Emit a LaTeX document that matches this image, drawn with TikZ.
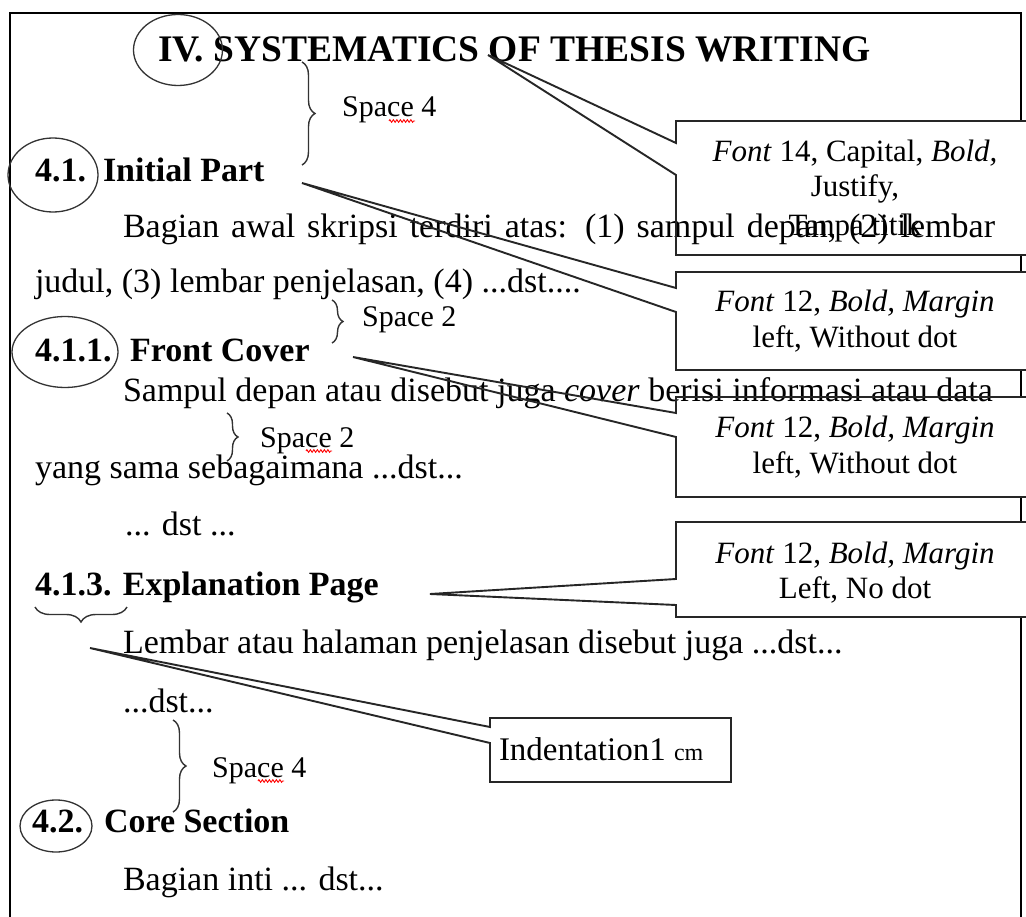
\documentclass[tikz,border=0pt]{standalone}
\usepackage{fontspec}
\setmainfont{Liberation Serif}
\usetikzlibrary{shapes.geometric,decorations.pathreplacing,decorations.pathmorphing}

\newcommand\titlesize{\fontsize{37.5}{44}\selectfont}
\newcommand\bodysize{\fontsize{34}{40}\selectfont}
\newcommand\notesize{\fontsize{31}{36}\selectfont}
\newcommand\gapsize{\fontsize{30}{35}\selectfont}

\tikzset{
  frame/.style={line width=2.6pt, black},
  callout/.style={line width=1.9pt, black!85, line join=miter},
  ring/.style={ellipse, draw=black!80, line width=1.3pt, inner sep=0pt},
  txt/.style={anchor=base west, inner sep=0pt, outer sep=0pt},
  note/.style={anchor=base, inner sep=0pt, outer sep=0pt, font=\notesize},
  gapbrace/.style={decorate, decoration={brace, amplitude=13pt}, line width=1.4pt, black!80},
  gaplabel/.style={anchor=base west, inner sep=0pt, font=\gapsize},
  spell/.style={red, line width=0.9pt, decorate, decoration={zigzag, amplitude=1.3pt, segment length=3.5pt}}
}

\begin{document}
\begin{tikzpicture}[x=1pt,y=-1pt]
\useasboundingbox (0,0) rectangle (1026,917);
\clip (0,0) rectangle (1026,917);
\fill[white] (0,0) rectangle (1026,917);

% page frame (right edge only between the callouts)
\draw[frame] (10,930) -- (10,13) -- (1021,13) -- (1021,121);
\draw[frame] (1021,255) -- (1021,272);
\draw[frame] (1021,370) -- (1021,397);
\draw[frame] (1021,497) -- (1021,522);
\draw[frame] (1021,617) -- (1021,930);

% ---- page text ----
\node[txt, font=\titlesize\bfseries] (title) at (158,62) {IV. SYSTEMATICS OF THESIS WRITING};

\node[txt, font=\bodysize\bfseries] (n41) at (35,182) {4.1.};
\node[txt, font=\bodysize\bfseries] (initial) at (103,182) {Initial Part};
\node[txt, font=\bodysize] (p1a) at (123,238) {\makebox[872pt][s]{Bagian awal skripsi terdiri atas: (1) sampul depan, (2) lembar}};
\node[txt, font=\bodysize] (p1b) at (35,293) {judul, (3) lembar penjelasan, (4) ...dst....};

\node[txt, font=\bodysize\bfseries] (n411) at (35,362) {4.1.1.};
\node[txt, font=\bodysize\bfseries] (front) at (130,362) {Front Cover};
\node[txt, font=\bodysize] (p2a) at (123,402) {\makebox[870pt][s]{Sampul depan atau disebut juga \textit{cover} berisi informasi atau data}};
\node[txt, font=\bodysize] (p2b) at (35,478) {yang sama sebagaimana ...dst...};
\node[txt, font=\bodysize] (p2c) at (125,535) {... dst ...};

\node[txt, font=\bodysize\bfseries] (expl) at (35,595) {4.1.3. Explanation Page};
\node[txt, font=\bodysize] (p3a) at (123,653) {Lembar atau halaman penjelasan disebut juga ...dst...};
\node[txt, font=\bodysize] (p3b) at (123,712) {...dst...};

\node[txt, font=\bodysize\bfseries] (n42) at (32,832) {4.2.};
\node[txt, font=\bodysize\bfseries] (core) at (104,832) {Core Section};
\node[txt, font=\bodysize] (p4a) at (123,890) {Bagian inti ... dst...};

% ---- rings around the numbers ----
\node[ring, minimum width=89pt, minimum height=71pt] (ringIV) at (178,50) {};
\node[ring, minimum width=90pt, minimum height=74pt] (ring41) at (53,175) {};
\node[ring, minimum width=106pt, minimum height=71pt] (ring411) at (65,352) {};
\node[ring, minimum width=72pt, minimum height=52pt] (ring42) at (56,826) {};

% ---- spacing braces ----
\draw[gapbrace] (302,62) -- (302,165);
\node[gaplabel] (sp1) at (342,117) {Space 4};
\draw[spell] (389,121) -- (415,121);

\draw[gapbrace, decoration={brace, amplitude=11pt}] (332,300) -- (332,343);
\node[gaplabel] (sp2) at (362,327) {Space 2};

\draw[gapbrace, decoration={brace, amplitude=11pt}] (227,413) -- (227,461);
\node[gaplabel] (sp3) at (260,447) {Space 2};
\draw[spell] (306,451) -- (332,451);

\draw[gapbrace] (173,720) -- (173,812);
\node[gaplabel] (sp4) at (212,777) {Space 4};
\draw[spell] (258,781) -- (284,781);

\draw[gapbrace, decoration={brace, amplitude=15pt}] (127,607) -- (35,607);

% ---- callout tips ----
\coordinate (tip1) at (488,55);
\coordinate (tip2) at (302,183);
\coordinate (tip3) at (353,357);
\coordinate (tip4) at (430,594);
\coordinate (tip5) at (90,648);

% ---- callouts ----
\draw[callout] (1035,121) -- (676,121) -- (676,143) -- (tip1) -- (676,175) -- (676,255) -- (1035,255);
\node[note] (c1a) at (855,162) {\textit{Font} 14, Capital, \textit{Bold,}};
\node[note] (c1b) at (855,197) {Justify,};
\node[note] (c1c) at (855,236) {Tanpa titik};

\draw[callout] (1035,272) -- (676,272) -- (676,288) -- (tip2) -- (676,312) -- (676,370) -- (1035,370);
\node[note] (c2a) at (855,312) {\textit{Font} 12, \textit{Bold, Margin}};
\node[note] (c2b) at (855,348) {left, Without dot};

\draw[callout] (1035,397) -- (676,397) -- (676,413) -- (tip3) -- (676,437) -- (676,497) -- (1035,497);
\node[note] (c3a) at (855,437) {\textit{Font} 12, \textit{Bold, Margin}};
\node[note] (c3b) at (855,473) {left, Without dot};

\draw[callout] (1035,522) -- (676,522) -- (676,579) -- (tip4) -- (676,605) -- (676,617) -- (1035,617);
\node[note] (c4a) at (855,563) {\textit{Font} 12, \textit{Bold, Margin}};
\node[note] (c4b) at (855,598) {Left, No dot};

\draw[callout] (731,718) -- (490,718) -- (490,727) -- (tip5) -- (490,743) -- (490,782) -- (731,782) -- cycle;
\node[txt, font=\fontsize{33}{38}\selectfont] (c5) at (499,760) {Indentation1 {\fontsize{24}{28}\selectfont cm}};
\end{tikzpicture}
\end{document}
